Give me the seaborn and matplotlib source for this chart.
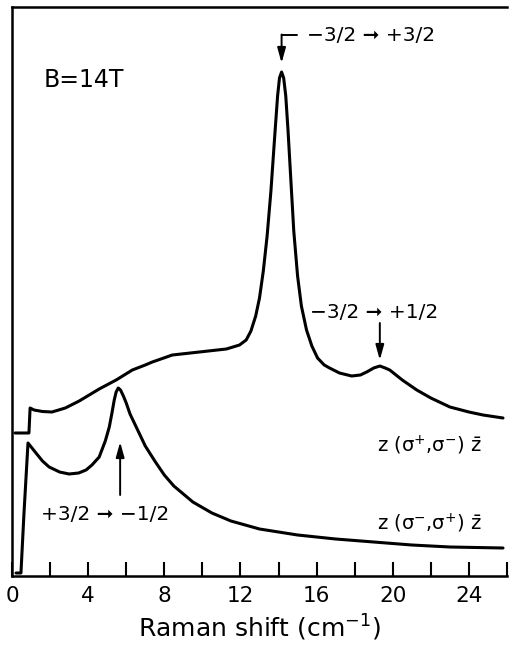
import numpy as np
import pandas as pd
import matplotlib
matplotlib.use("Agg")
import matplotlib.pyplot as plt
import seaborn as sns

# ---- data (Raman shift in cm^-1, intensity arbitrary units) ----
upper_x = [0.16, 0.89, 0.95, 1.16, 1.6, 2.1, 2.8, 3.53, 4.58, 5.47, 6.32, 7.0, 7.37,
           8.42, 9.84, 11.26, 11.95, 12.3, 12.55, 12.8, 13.0, 13.2, 13.4, 13.6,
           13.8, 13.95, 14.05, 14.16, 14.27, 14.38, 14.5, 14.65, 14.8, 15.0, 15.2,
           15.47, 15.75, 16.05, 16.4, 16.68, 17.2, 17.84, 18.3, 18.63, 19.0, 19.32,
           19.6, 19.84, 20.5, 21.26, 22.0, 23.0, 24.0, 24.74, 25.79]
upper_y = [1.43, 1.43, 1.68, 1.66, 1.645, 1.64, 1.68, 1.75, 1.87, 1.96, 2.06, 2.11, 2.14,
           2.21, 2.24, 2.27, 2.31, 2.36, 2.45, 2.6, 2.78, 3.05, 3.4, 3.85,
           4.4, 4.8, 4.98, 5.04, 4.98, 4.8, 4.45, 3.95, 3.45, 3.0, 2.7,
           2.46, 2.3, 2.18, 2.11, 2.08, 2.03, 2.00, 2.01, 2.04, 2.08, 2.10,
           2.08, 2.06, 1.96, 1.86, 1.78, 1.69, 1.64, 1.61, 1.58]

lower_x = [0.21, 0.47, 0.63, 0.84, 1.26, 1.6, 1.95, 2.5, 3.0, 3.5, 3.89, 4.2, 4.58,
           4.9, 5.11, 5.25, 5.37, 5.47, 5.58, 5.7, 5.85, 6.0, 6.2, 6.5, 7.0, 7.5,
           8.0, 8.5, 9.5, 10.5, 11.5, 13.0, 15.0, 17.0, 19.0, 21.0, 23.0, 25.79]
lower_y = [0.03, 0.03, 0.63, 1.33, 1.23, 1.15, 1.09, 1.04, 1.02, 1.03, 1.06, 1.11, 1.19,
           1.35, 1.49, 1.63, 1.76, 1.84, 1.88, 1.86, 1.80, 1.73, 1.62, 1.50, 1.30, 1.15,
           1.01, 0.90, 0.74, 0.63, 0.55, 0.47, 0.41, 0.37, 0.34, 0.31, 0.29, 0.28]

x_ticks_major = [0, 4, 8, 12, 16, 20, 24]
x_ticks_minor = [2, 6, 10, 14, 18, 22, 26]

df_up = pd.DataFrame({"shift": upper_x, "I": upper_y})
df_lo = pd.DataFrame({"shift": lower_x, "I": lower_y})

sns.set_style("ticks")
plt.rcParams["font.family"] = ["DejaVu Sans"]
plt.rcParams["mathtext.fontset"] = "dejavusans"
plt.rcParams["text.color"] = "black"
plt.rcParams["axes.labelcolor"] = "black"
plt.rcParams["xtick.color"] = "black"

fig = plt.figure(figsize=(5.17, 6.51), dpi=100)
ax = fig.add_axes([12/517, 75/651, 495/517, 569/651])

sns.lineplot(data=df_up, x="shift", y="I", ax=ax, color="black", lw=2.2, sort=False)
sns.lineplot(data=df_lo, x="shift", y="I", ax=ax, color="black", lw=2.2, sort=False)
for ln in ax.lines:
    ln.set_solid_joinstyle("round")

ax.set_xlim(0, 26)
ax.set_ylim(0, 5.69)
ax.set_yticks([])
ax.set_ylabel("")
ax.set_xticks(x_ticks_major)
ax.set_xticklabels([str(t) for t in x_ticks_major])
ax.set_xticks(x_ticks_minor, minor=True)
ax.tick_params(axis="x", which="both", direction="in", length=10, width=1.5,
               labelsize=15.5, pad=7, colors="black")
ax.set_xlabel("Raman shift (cm$^{-1}$)", fontsize=18, labelpad=5, color="black")

for s in ["left", "top", "bottom"]:
    ax.spines[s].set_linewidth(1.8)
    ax.spines[s].set_color("black")
ax.spines["right"].set_visible(False)

ax.text(1.68, 4.96, "B=14T", fontsize=17, ha="left", va="center", color="black")

arrow = dict(arrowstyle="-|>,head_length=0.9,head_width=0.25", color="black", lw=1.4,
             shrinkA=0, shrinkB=0)

# main peak: bent arrow
ax.plot([14.95, 14.16], [5.41, 5.41], color="black", lw=1.4)
ax.annotate("", xy=(14.16, 5.13), xytext=(14.16, 5.415), arrowprops=arrow)
ax.text(15.47, 5.41, "−3/2 ➞ +3/2", fontsize=14.5, ha="left", va="center", color="black")

# secondary peak
ax.annotate("", xy=(19.32, 2.16), xytext=(19.32, 2.53), arrowprops=arrow)
ax.text(15.63, 2.64, "−3/2 ➞ +1/2", fontsize=14.5, ha="left", va="center", color="black")

# lower peak
ax.annotate("", xy=(5.68, 1.34), xytext=(5.68, 0.81), arrowprops=arrow)
ax.text(1.53, 0.61, "+3/2 ➞ −1/2", fontsize=14.5, ha="left", va="center", color="black")

ax.text(19.16, 1.31, r"z (σ$^{+}$,σ$^{-}$) $\bar{\mathrm{z}}$", fontsize=14,
        ha="left", va="center", color="black")
ax.text(19.16, 0.53, r"z (σ$^{-}$,σ$^{+}$) $\bar{\mathrm{z}}$", fontsize=14,
        ha="left", va="center", color="black")

fig.savefig("out.png", dpi=100)
